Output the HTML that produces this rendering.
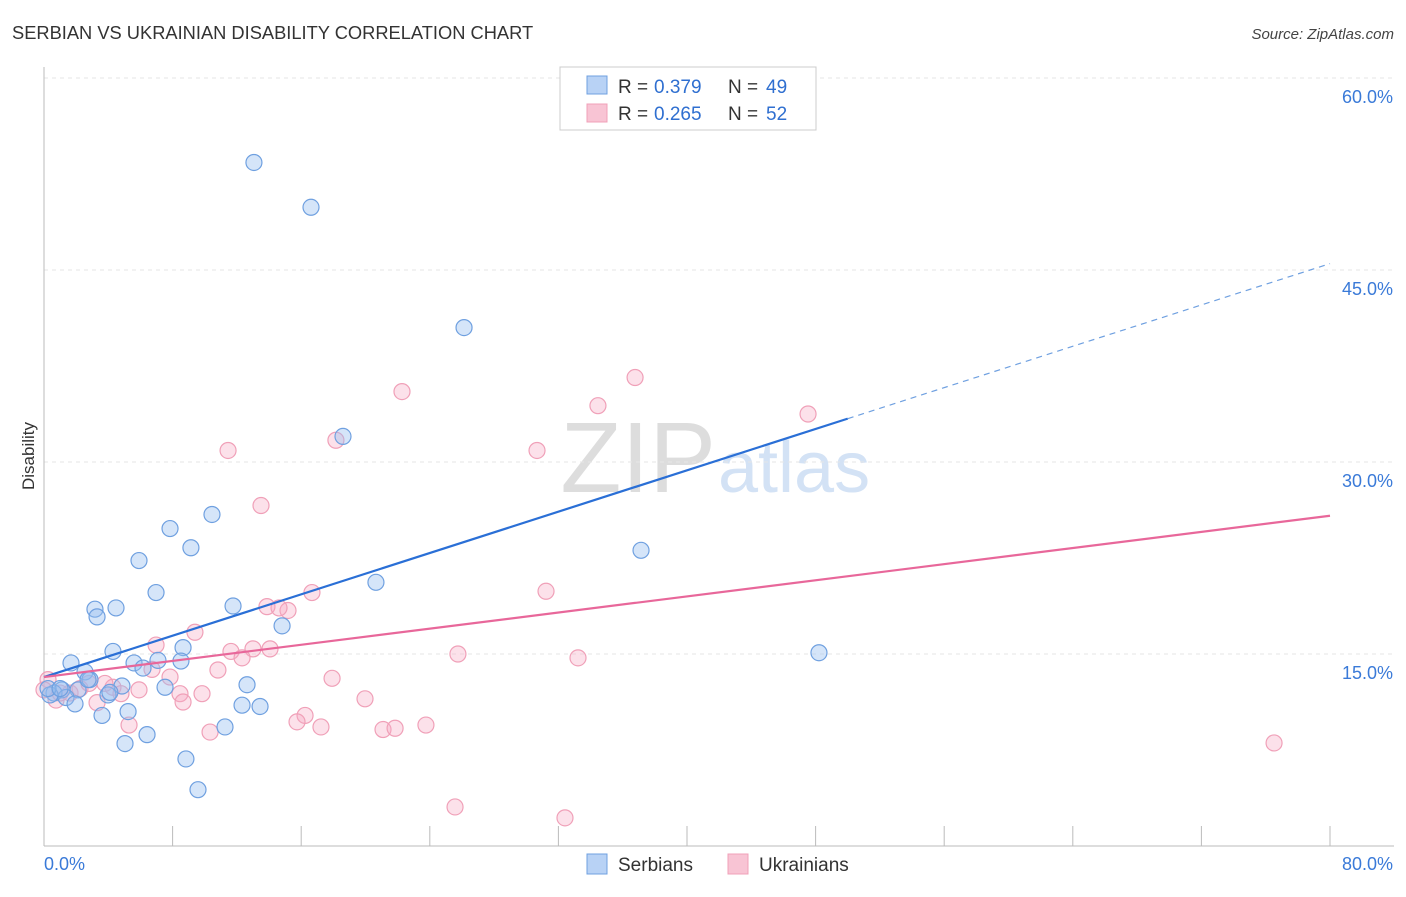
<!DOCTYPE html>
<html><head><meta charset="utf-8">
<style>
body{margin:0;background:#fff;font-family:"Liberation Sans",sans-serif;}
svg text{font-family:"Liberation Sans",sans-serif;}
</style></head>
<body>
<svg id="chart" width="1406" height="892" xmlns="http://www.w3.org/2000/svg">
<text x="12" y="39" font-size="18.3" fill="#333">SERBIAN VS UKRAINIAN DISABILITY CORRELATION CHART</text>
<text x="1394" y="39" font-size="15" fill="#444" font-style="italic" text-anchor="end">Source: ZipAtlas.com</text>
<text x="716" y="492" font-size="100" fill="#ddd" text-anchor="end" font-family="Liberation Serif">ZIP</text>
<text x="718" y="492" font-size="72" fill="#d3e2f5">atlas</text>
<g id="grid"></g>
<g id="axes"></g>
<g id="points"></g>
<g id="lines"></g>
<text x="34" y="456" font-size="17" fill="#333" text-anchor="middle" transform="rotate(-90 34 456)">Disability</text>
<g>
<rect x="560" y="67" width="256" height="63" fill="#fff" stroke="#ccc"/>
<rect x="587" y="76" width="20" height="18" fill="#b8d2f5" stroke="#6fa0e0"/>
<text x="618" y="93" font-size="19" fill="#333">R =</text>
<text x="654" y="93" font-size="19" fill="#2f6fd0">0.379</text>
<text x="728" y="93" font-size="19" fill="#333">N =</text>
<text x="766" y="93" font-size="19" fill="#2f6fd0">49</text>
<rect x="587" y="104" width="20" height="18" fill="#f8c4d4" stroke="#f0a0b8"/>
<text x="618" y="120" font-size="19" fill="#333">R =</text>
<text x="654" y="120" font-size="19" fill="#2f6fd0">0.265</text>
<text x="728" y="120" font-size="19" fill="#333">N =</text>
<text x="766" y="120" font-size="19" fill="#2f6fd0">52</text>
</g>
<g>
<rect x="587" y="854" width="20" height="20" fill="#b8d2f5" stroke="#6fa0e0"/>
<text x="618" y="871" font-size="19" fill="#333">Serbians</text>
<rect x="728" y="854" width="20" height="20" fill="#f8c4d4" stroke="#f0a0b8"/>
<text x="759" y="871" font-size="19" fill="#333">Ukrainians</text>
</g>
</svg>
<script>
const blueX=[13.06,16.61,26.13,18.60,37.14,20.65,48.21,10.45,7.84,9.14,5.91,6.97,3.17,4.48,3.30,11.76,14.81,4.29,8.65,1.68,5.60,7.09,8.52,6.16,2.55,2.86,12.63,7.53,4.85,3.98,2.12,1.12,0.62,0.37,0.25,1.37,1.93,12.32,13.44,5.23,3.61,11.26,6.41,5.04,8.83,9.58,1.0,2.74,4.1];
const blueY=[53.4,49.9,40.5,32.0,23.1,20.6,15.1,25.9,24.8,23.3,22.3,19.8,18.5,18.6,17.9,18.75,17.2,15.2,15.5,14.3,14.3,14.5,14.45,13.9,13.6,13.0,12.6,12.4,12.5,11.8,12.2,12.2,11.95,11.8,12.3,11.6,11.1,11.0,10.9,10.5,10.2,9.3,8.7,8.0,6.8,4.4,12.3,13.0,12.0];
const pinkX=[22.27,36.77,34.46,47.53,11.45,18.16,30.67,13.5,31.23,16.67,13.87,15.18,14.62,9.39,6.97,11.63,13.0,14.06,12.32,25.75,33.22,10.82,7.84,17.92,4.29,3.79,5.91,8.46,9.83,19.97,4.79,3.30,8.65,16.24,15.74,17.23,10.33,21.09,21.84,23.76,5.29,76.52,25.57,32.41,0.25,0.75,1.62,2.24,1.0,0,6.72,2.8];
const pinkY=[35.5,36.6,34.4,33.75,30.9,31.7,30.9,26.6,19.9,19.8,18.7,18.4,18.6,16.7,15.7,15.2,15.4,15.4,14.7,15.0,14.7,13.75,13.2,13.1,12.4,12.7,12.2,11.9,11.9,11.5,11.9,11.2,11.25,10.2,9.7,9.3,8.9,9.1,9.2,9.45,9.45,8.05,3.05,2.2,13.0,11.4,11.95,12.3,11.95,12.2,13.8,12.7];
const yTicks=[15,30,45,60];
const yTickLabels=["15.0%","30.0%","45.0%","60.0%"];
const xTicks=[0,8,16,24,32,40,48,56,64,72,80];
const blueTrend=[13.2,45.5];
const pinkTrend=[13.2,25.8];
const blueSolidEnd=50;

const NS="http://www.w3.org/2000/svg";
const X=v=>44+v/80*1286;
const Y=v=>846-v*12.8;
function mk(tag,attrs,parent){const e=document.createElementNS(NS,tag);for(const k in attrs)e.setAttribute(k,attrs[k]);document.getElementById(parent).appendChild(e);return e;}

yTicks.forEach((t,i)=>{
  const l=mk('line',{x1:44,x2:1394,y1:Y(t),y2:Y(t),stroke:'#e6e6e6','stroke-dasharray':'4,4'},'grid');
  
  
  const tx=mk('text',{x:1393,y:Y(t)+25,'font-size':18,fill:'#3a7ad8','text-anchor':'end'},'grid');
  tx.textContent=yTickLabels[i];
  
  
});
const ax=mk('line',{x1:44,x2:44,y1:67,y2:846,stroke:'#bbb'},'axes');


const bx=mk('line',{x1:44,x2:1394,y1:846,y2:846,stroke:'#bbb'},'axes');


xTicks.forEach(t=>{
  const l=mk('line',{x1:X(t),x2:X(t),y1:826,y2:846,stroke:'#bbb'},'axes');
  
  
});
const x0=mk('text',{x:44,y:870,'font-size':18,fill:'#3a7ad8'},'axes');x0.textContent='0.0%';


const x1=mk('text',{x:1393,y:870,'font-size':18,fill:'#3a7ad8','text-anchor':'end'},'axes');x1.textContent='80.0%';



pinkX.forEach((v,i)=>{
  const c=mk('circle',{cx:X(v),cy:Y(pinkY[i]),r:8,fill:'rgba(245,170,195,0.35)',stroke:'#f0a0b8','stroke-width':1.2},'points');
  
  
});
blueX.forEach((v,i)=>{
  const c=mk('circle',{cx:X(v),cy:Y(blueY[i]),r:8,fill:'rgba(150,190,240,0.4)',stroke:'#6fa0e0','stroke-width':1.2},'points');
  
  
});
const bAt=x=>blueTrend[0]+(blueTrend[1]-blueTrend[0])*x/80;
const b1=mk('line',{x1:X(0),y1:Y(bAt(0)),x2:X(blueSolidEnd),y2:Y(bAt(blueSolidEnd)),stroke:'#2a6fd6','stroke-width':2.2},'lines');


const b2=mk('line',{x1:X(blueSolidEnd),y1:Y(bAt(blueSolidEnd)),x2:X(80),y2:Y(bAt(80)),stroke:'#6fa0e0','stroke-width':1.2,'stroke-dasharray':'6,5'},'lines');


const p1=mk('line',{x1:X(0),y1:Y(pinkTrend[0]),x2:X(80),y2:Y(pinkTrend[1]),stroke:'#e8679a','stroke-width':2.2},'lines');


</script>
</body></html>
